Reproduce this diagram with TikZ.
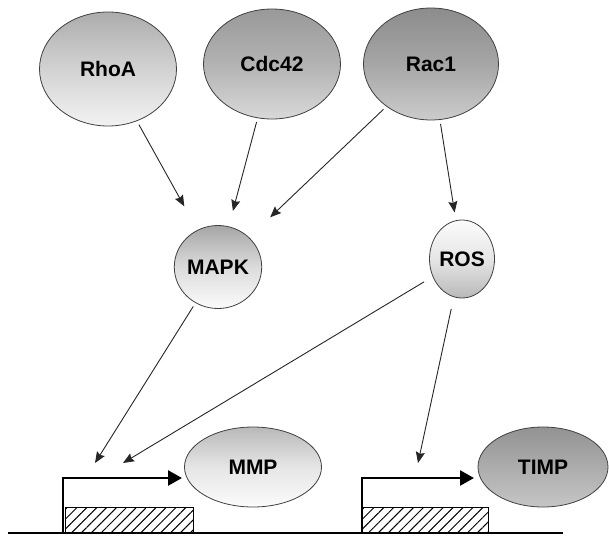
\documentclass[tikz,border=0pt]{standalone}
\usepackage{fontspec}
\setmainfont{Liberation Sans}
\usetikzlibrary{arrows.meta, shapes.geometric, patterns.meta}
\tikzset{
    >={Stealth[length=11pt, width=9pt, inset=1.5pt]}, % punte delle frecce
    blob/.style={ellipse, draw=black!75, line width=0.8pt, font=\fontsize{21}{24}\selectfont\bfseries, inner sep=0pt},
    link/.style={->, line width=0.9pt, draw=black!85, shorten <=4pt},
    promoter/.style={line width=2.6pt, -{Triangle[length=14pt, width=15pt]}},
    gene/.style={draw=black, line width=0.9pt, pattern={Lines[angle=45, distance=7pt, line width=1pt]}},
}

\begin{document}
\begin{tikzpicture}[x=1pt, y=-1pt]
    \useasboundingbox (0,0) rectangle (609,535);

    % GTPasi
    \node[blob, minimum width=137, minimum height=114, top color=gray!65, bottom color=gray!10, middle color=gray!35] (rhoa) at (108,69) {RhoA};
    \node[blob, minimum width=137, minimum height=110, top color=gray!80, bottom color=gray!30, middle color=gray!60] (cdc42) at (272,64) {Cdc42};
    \node[blob, minimum width=135, minimum height=112, top color=gray!90, bottom color=gray!40, middle color=gray!70] (rac1) at (431,64) {Rac1};

    % Mediatori
    \node[blob, minimum width=83, minimum height=83, top color=gray!70, bottom color=gray!3, middle color=gray!28] (mapk) at (218,267) {MAPK};
    \node[blob, minimum width=65, minimum height=78, top color=gray!3, bottom color=gray!55, middle color=gray!20] (ros) at (462,259) {ROS};

    % Prodotti
    \node[blob, minimum width=137, minimum height=80, top color=gray!55, bottom color=gray!3, middle color=gray!20] (mmp) at (253,467) {MMP};
    \node[blob, minimum width=130, minimum height=80, top color=gray!85, bottom color=gray!45, middle color=gray!65] (timp) at (543,467) {TIMP};

    % Geni e promotori
    \coordinate (mmpsite) at (95,463);
    \coordinate (rossite) at (123,463);
    \coordinate (timpsite) at (418,463);
    \coordinate (mmpstart) at (63,533);
    \coordinate (mmpend) at (182,478);
    \coordinate (timpstart) at (362,533);
    \coordinate (timpend) at (474,478);
    \draw[gene] (65,507) rectangle (193,533);
    \draw[gene] (362,507) rectangle (488,533);
    \draw[line width=1.8pt] (8,533) -- (563,533);
    \draw[promoter] (mmpstart) |- (mmpend);
    \draw[promoter] (timpstart) |- (timpend);

    % Frecce
    \draw[link, shorten >=27pt] (rhoa) -- (mapk);
    \draw[link, shorten >=16pt] (cdc42) -- (mapk);
    \draw[link, shorten >=29pt] (rac1) -- (mapk);
    \draw[link, shorten >=8pt] (rac1) -- (ros);
    \draw[link] (mapk) -- (mmpsite);
    \draw[link, shorten <=10pt] (ros) -- (rossite);
    \draw[link, shorten <=12pt] (ros) -- (timpsite);

\end{tikzpicture}
\end{document}
